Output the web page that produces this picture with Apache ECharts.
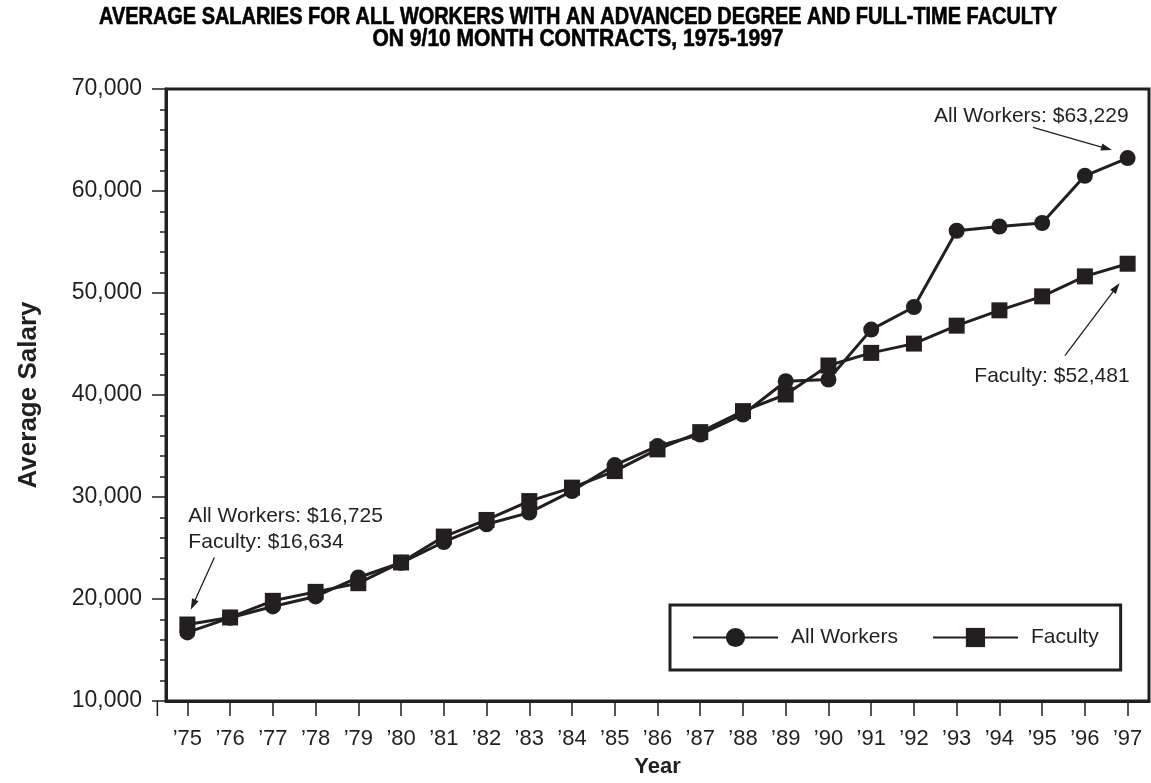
<!DOCTYPE html>
<html>
<head>
<meta charset="utf-8">
<script src="https://cdn.jsdelivr.net/npm/echarts@6/dist/echarts.min.js"></script>
<style>
html,body{margin:0;padding:0;background:#fff;}
#main{width:1151px;height:783px;}
</style>
</head>
<body>
<div id="main"></div>
<script>
var years = ["\u201975","\u201976","\u201977","\u201978","\u201979","\u201980","\u201981","\u201982","\u201983","\u201984","\u201985","\u201986","\u201987","\u201988","\u201989","\u201990","\u201991","\u201992","\u201993","\u201994","\u201995","\u201996","\u201997"];
var allWorkers = [16725, 18150, 19270, 20250, 22110, 23550, 25590, 27330, 28470, 30580, 33130, 34990, 36130, 38090, 41350, 41520, 46410, 48630, 56100, 56520, 56860, 61490, 63229];
var faculty = [17500, 18190, 19820, 20700, 21550, 23580, 26120, 27750, 29600, 30920, 32540, 34670, 36360, 38420, 40050, 42890, 44130, 45040, 46800, 48300, 49670, 51630, 52870];
var titleLines = ["AVERAGE SALARIES FOR ALL WORKERS WITH AN ADVANCED DEGREE AND FULL-TIME FACULTY", "ON 9/10 MONTH CONTRACTS, 1975-1997"];
var startNotes = ["All Workers: $16,725", "Faculty: $16,634"];
var endNoteAll = "All Workers: $63,229";
var endNoteFaculty = "Faculty: $52,481";
var seriesNames = ["All Workers", "Faculty"];
var yAxisTitle = "Average Salary";
var xAxisTitle = "Year";

var INK = '#231f20';
var FONT = '"Liberation Sans", Arial, Helvetica, sans-serif';

var chart = echarts.init(document.getElementById('main'), null, {renderer:'canvas'});

chart.setOption({
  backgroundColor: '#fff',
  animation: false,
  textStyle: {fontFamily: FONT, color: INK},
  grid: {left: 166, right: 2, top: 89, bottom: 81, show: true, borderColor: INK, borderWidth: 3, containLabel: false},
  legend: {
    left: 670, top: 605,
    orient: 'horizontal',
    padding: [22, 22, 22, 22],
    borderColor: INK, borderWidth: 3,
    itemWidth: 85, itemHeight: 24, itemGap: 34,
    textStyle: {fontSize: 21, color: INK, fontFamily: FONT, padding: [0,0,0,8]},
    data: seriesNames
  },
  xAxis: {
    type: 'category',
    data: years,
    boundaryGap: true,
    name: xAxisTitle,
    nameLocation: 'middle',
    nameGap: 55,
    nameTextStyle: {fontSize: 22, fontWeight: 'bold', color: INK, fontFamily: FONT},
    axisLine: {show: true, lineStyle: {color: INK, width: 3}},
    axisTick: {show: true, alignWithLabel: true, length: 15, lineStyle: {color: INK, width: 1.5}},
    axisLabel: {show: true, fontSize: 22, color: INK, margin: 27, interval: 0},
    splitLine: {show: false}
  },
  yAxis: {
    type: 'value',
    min: 10000, max: 70000, interval: 10000,
    name: yAxisTitle,
    nameLocation: 'middle',
    nameRotate: 90,
    nameGap: 124,
    nameTextStyle: {fontSize: 26, fontWeight: 'bold', color: INK, fontFamily: FONT},
    axisLine: {show: true, lineStyle: {color: INK, width: 3}},
    axisTick: {show: true, length: 14, lineStyle: {color: INK, width: 1.5}},
    minorTick: {show: true, splitNumber: 5, length: 6, lineStyle: {color: INK, width: 1.5}},
    axisLabel: {fontSize: 23, color: INK, margin: 24, formatter: function(v){return v.toLocaleString('en-US');}},
    splitLine: {show: false}
  },
  series: [
    {name: seriesNames[0], type: 'line', data: allWorkers, symbol: 'circle', symbolSize: 16,
     lineStyle: {color: INK, width: 3}, itemStyle: {color: INK}, z: 3},
    {name: seriesNames[1], type: 'line', data: faculty, symbol: 'rect', symbolSize: 16,
     lineStyle: {color: INK, width: 3}, itemStyle: {color: INK}, z: 2}
  ]
});

function measure(text, font){
  var c = document.createElement('canvas').getContext('2d');
  c.font = font; return c.measureText(text).width;
}
var titleFont = 'bold 23px "Liberation Sans"';
var targetW = [958, 411];
var titleY = [18, 39.5];
var graphics = [];
titleLines.forEach(function(t, i){
  var w = measure(t, titleFont);
  var s = w > 0 ? targetW[i] / w : 1;
  graphics.push({type:'text', x: 578, y: titleY[i], scaleX: s,
    style:{text: t, fontSize: 23, fontWeight: 'bold', fontFamily: '"Liberation Sans", Arial, sans-serif', fill: '#000', stroke: '#000', lineWidth: 0.6, align:'center', verticalAlign:'middle'}});
});

function arrow(ax, ay, bx, by){
  var dx = bx - ax, dy = by - ay, L = Math.sqrt(dx*dx + dy*dy);
  var ux = dx / L, uy = dy / L, hl = 11, hw = 3.6;
  var baseX = bx - ux*hl, baseY = by - uy*hl;
  graphics.push({type:'line', shape:{x1: ax, y1: ay, x2: baseX + ux*2, y2: baseY + uy*2}, style:{stroke: INK, lineWidth: 1.3}});
  graphics.push({type:'polygon', shape:{points:[[bx,by],[baseX - uy*hw, baseY + ux*hw],[baseX + uy*hw, baseY - ux*hw]]}, style:{fill: INK}});
}
function note(text, x, y, align){
  graphics.push({type:'text', x: x, y: y, style:{text: text, fontSize: 21, fontFamily: FONT, fill: INK, align: align, verticalAlign: 'middle'}});
}

var last = years.length - 1;
var pA0 = chart.convertToPixel({seriesIndex:0}, [0, allWorkers[0]]);
var pAN = chart.convertToPixel({seriesIndex:0}, [last, allWorkers[last]]);
var pFN = chart.convertToPixel({seriesIndex:1}, [last, faculty[last]]);
var pOrigin = chart.convertToPixel({gridIndex:0}, [0, 10000]);

note(startNotes[0], pA0[0] + 1, pA0[1] - 116.5, 'left');
note(startNotes[1], pA0[0] + 1, pA0[1] - 90.3, 'left');
arrow(pA0[0] + 27, pA0[1] - 75, pA0[0] + 3.4, pA0[1] - 22.6);

note(endNoteAll, pAN[0] + 1, pAN[1] - 42.3, 'right');
arrow(pAN[0] - 94.7, pAN[1] - 30.6, pAN[0] - 15.7, pAN[1] - 8);

note(endNoteFaculty, pFN[0] + 2, pFN[1] + 112, 'right');
arrow(pFN[0] - 62.7, pFN[1] + 92, pFN[0] - 8, pFN[1] + 19.3);

graphics.push({type:'line', shape:{x1: pOrigin[0] - 30, y1: pOrigin[1], x2: pOrigin[0] - 30, y2: pOrigin[1] + 15}, style:{stroke: INK, lineWidth: 1.5}});

chart.setOption({graphic: graphics});
</script>
</body>
</html>
